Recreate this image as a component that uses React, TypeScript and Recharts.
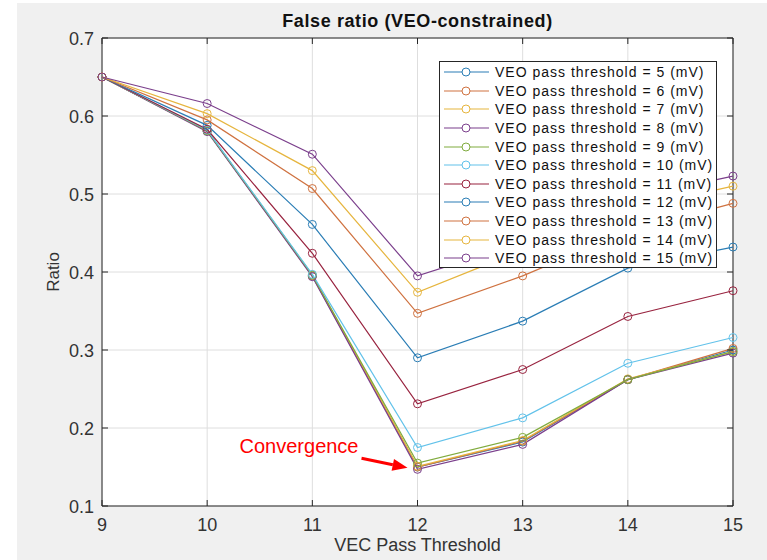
import {
  LineChart,
  Line,
  XAxis,
  YAxis,
  CartesianGrid,
  Legend,
  ReferenceArea,
  ReferenceDot,
} from "recharts";

// VEC pass threshold (x axis)
const vecThresholds = [9, 10, 11, 12, 13, 14, 15];

// false ratio per VEO pass threshold (mV)
const veo5 = [0.65, 0.581, 0.395, 0.15, 0.182, 0.262, 0.3];
const veo6 = [0.65, 0.581, 0.395, 0.15, 0.183, 0.262, 0.302];
const veo7 = [0.65, 0.581, 0.396, 0.151, 0.184, 0.263, 0.298];
const veo8 = [0.65, 0.58, 0.394, 0.147, 0.179, 0.262, 0.296];
const veo9 = [0.65, 0.581, 0.396, 0.155, 0.188, 0.262, 0.298];
const veo10 = [0.65, 0.582, 0.397, 0.175, 0.213, 0.283, 0.316];
const veo11 = [0.65, 0.583, 0.424, 0.231, 0.275, 0.343, 0.376];
const veo12 = [0.65, 0.588, 0.461, 0.29, 0.337, 0.405, 0.432];
const veo13 = [0.65, 0.595, 0.507, 0.347, 0.395, 0.452, 0.488];
const veo14 = [0.65, 0.603, 0.53, 0.374, 0.428, 0.48, 0.51];
const veo15 = [0.65, 0.616, 0.551, 0.395, 0.438, 0.494, 0.523];

const veoLevels = [5, 6, 7, 8, 9, 10, 11, 12, 13, 14, 15];
const veoSeries = [veo5, veo6, veo7, veo8, veo9, veo10, veo11, veo12, veo13, veo14, veo15];

const yTicks = [0.1, 0.2, 0.3, 0.4, 0.5, 0.6, 0.7];

// matlab default colour order, a touch washed out like the screenshot
const colorOrder = ["#2a7db5", "#cf7240", "#e6b53e", "#7b3f8c", "#80ab3e", "#62c2ea", "#98233f"];

const convergenceX = 12;
const convergenceY = veo8[3];

const rows = vecThresholds.map((x, i) => {
  const row: Record<string, number> = { x };
  veoLevels.forEach((lvl, k) => {
    row["v" + lvl] = veoSeries[k][i];
  });
  return row;
});

const W = 767;
const H = 560;
const margin = { top: 38, right: 34, bottom: 24, left: 42 };
const Y_AXIS_W = 60;
const X_AXIS_H = 30;
const PLOT_TOP = margin.top;
const PLOT_RIGHT = W - margin.right;
const TICK_GAP = 8;
const AXIS_COLOR = "#262626";
const FONT = "'Liberation Sans', Arial, sans-serif";

const colorOf = (k: number) => colorOrder[k % colorOrder.length];

function XTick({ x, y, payload }: any) {
  const axisY = y - TICK_GAP;
  return (
    <g>
      <line x1={x} x2={x} y1={axisY} y2={axisY - 6} stroke={AXIS_COLOR} />
      <line x1={x} x2={x} y1={PLOT_TOP} y2={PLOT_TOP + 6} stroke={AXIS_COLOR} />
      <text x={x} y={y + 16.5} textAnchor="middle" fontSize={18} fill="#333" fontFamily={FONT}>
        {payload.value}
      </text>
    </g>
  );
}

function YTick({ x, y, payload }: any) {
  const axisX = x + TICK_GAP;
  return (
    <g>
      <line x1={axisX} x2={axisX + 6} y1={y} y2={y} stroke={AXIS_COLOR} />
      <line x1={PLOT_RIGHT} x2={PLOT_RIGHT - 6} y1={y} y2={y} stroke={AXIS_COLOR} />
      <text x={x} y={y + 6.5} textAnchor="end" fontSize={18} fill="#333" fontFamily={FONT}>
        {payload.value.toFixed(1)}
      </text>
    </g>
  );
}

function MatlabLegend() {
  return (
    <div
      style={{
        width: 278,
        height: 207,
        boxSizing: "border-box",
        border: `1px solid ${AXIS_COLOR}`,
        background: "#fff",
        paddingTop: 1,
        fontFamily: FONT,
        fontSize: 14,
        letterSpacing: 1,
        color: "#111",
      }}
    >
      {veoLevels.map((lvl, k) => (
        <div key={lvl} style={{ display: "flex", alignItems: "center", height: 18.6 }}>
          <svg width={52} height={12} style={{ marginLeft: 3, flex: "none" }}>
            <line x1={1} x2={46} y1={6} y2={6} stroke={colorOf(k)} strokeWidth={1.2} />
            <circle cx={23} cy={6} r={4} fill="#fff" stroke={colorOf(k)} strokeWidth={1} />
          </svg>
          <span style={{ whiteSpace: "nowrap" }}>{`VEO pass threshold = ${lvl} (mV)`}</span>
        </div>
      ))}
    </div>
  );
}

function ConvergenceNote({ cx, cy }: any) {
  // arrow from the label down to the converged markers
  const x1 = cx - 56;
  const y1 = cy - 11;
  const tx = cx - 10;
  const ty = cy - 1.5;
  const dx = tx - x1;
  const dy = ty - y1;
  const len = Math.hypot(dx, dy);
  const ux = dx / len;
  const uy = dy / len;
  const bx = tx - ux * 15;
  const by = ty - uy * 15;
  const head = `${tx},${ty} ${bx - uy * 6},${by + ux * 6} ${bx + uy * 6},${by - ux * 6}`;
  return (
    <g>
      <text x={cx - 59} y={cy - 16} textAnchor="end" fontSize={20} fill="#ff0000" fontFamily={FONT}>
        Convergence
      </text>
      <line x1={x1} y1={y1} x2={bx} y2={by} stroke="#ff0000" strokeWidth={3} />
      <polygon points={head} fill="#ff0000" />
    </g>
  );
}

export default function App() {
  return (
    <div style={{ position: "absolute", left: 0, top: 0, width: W, height: H, background: "#fff" }}>
      <div style={{ position: "absolute", left: 17, top: 3, right: 0, bottom: 0, background: "#f0f0f0" }} />
      <div
        style={{
          position: "absolute",
          left: margin.left + Y_AXIS_W,
          width: PLOT_RIGHT - margin.left - Y_AXIS_W,
          top: 11,
          textAlign: "center",
          fontFamily: FONT,
          fontWeight: "bold",
          fontSize: 18,
          letterSpacing: 0.6,
          color: "#111",
        }}
      >
        False ratio (VEO-constrained)
      </div>
      <LineChart width={W} height={H} data={rows} margin={margin} style={{ position: "absolute", left: 0, top: 0 }}>
        <CartesianGrid stroke="#dedede" fill="#fff" />
        <XAxis
          dataKey="x"
          type="number"
          domain={[9, 15]}
          ticks={vecThresholds}
          height={X_AXIS_H}
          tickSize={0}
          tickMargin={TICK_GAP}
          tick={<XTick />}
          axisLine={false}
          label={{
            value: "VEC Pass Threshold",
            position: "bottom",
            offset: 2,
            style: { fontSize: 18, fill: "#333", fontFamily: FONT },
          }}
        />
        <YAxis
          type="number"
          domain={[0.1, 0.7]}
          ticks={yTicks}
          width={Y_AXIS_W}
          tickSize={0}
          tickMargin={TICK_GAP}
          tick={<YTick />}
          axisLine={false}
          label={{
            value: "Ratio",
            angle: -90,
            position: "insideLeft",
            offset: 11,
            style: { fontSize: 17, fill: "#333", fontFamily: FONT, textAnchor: "middle" },
          }}
        />
        <ReferenceArea x1={9} x2={15} y1={0.1} y2={0.7} fill="none" stroke={AXIS_COLOR} strokeWidth={1} />
        {veoLevels.map((lvl, k) => (
          <Line
            key={lvl}
            dataKey={"v" + lvl}
            name={`VEO pass threshold = ${lvl} (mV)`}
            type="linear"
            stroke={colorOf(k)}
            strokeWidth={1.2}
            dot={{ r: 4, fill: "none", stroke: colorOf(k), strokeWidth: 1 }}
            activeDot={false}
            isAnimationActive={false}
          />
        ))}
        <ReferenceDot x={convergenceX} y={convergenceY} r={0} shape={<ConvergenceNote />} />
        <Legend
          layout="vertical"
          align="center"
          verticalAlign="middle"
          content={<MatlabLegend />}
          wrapperStyle={{ left: 439, top: 61, width: 278, height: 207 }}
        />
      </LineChart>
    </div>
  );
}
